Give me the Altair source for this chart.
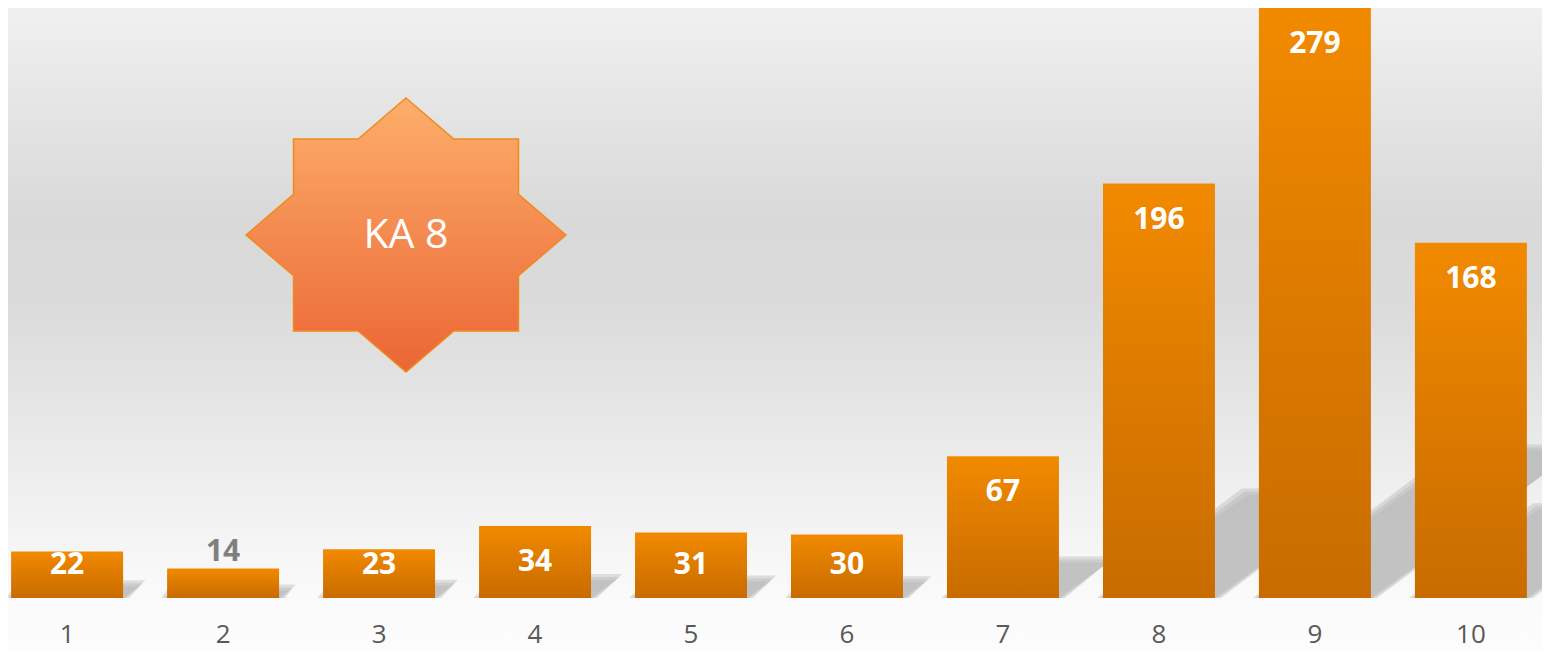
import altair as alt
import pandas as pd

categories = [str(i) for i in range(1, 11)]
values = [22, 14, 23, 34, 31, 30, 67, 196, 279, 168]
star_label = "KA 8"

W = 1522
H = 590
D = 279.0
PI = 0.282
PO = 0.02
N = len(categories)
k = H / D
step = W / (N - PI + 2 * PO)

df = pd.DataFrame({"cat": categories, "v": values})

# soft shadow parallelograms derived from the values (several passes fake a blur)
SA, SB = 0.35, 0.25
rows = []
for blur in [0.0, 3.0, 6.0]:
    e = blur / step
    for i, (c, v) in enumerate(zip(categories, values)):
        x0 = PO + i
        x1 = PO + i + (1 - PI)
        dxu = SA * v * k / step
        rows.append({"cat": c, "b": blur, "sy": 0.0, "sx": x0 - e, "sx2": x1 + e})
        rows.append({"cat": c, "b": blur, "sy": SB * v + blur / k, "sx": x0 + dxu - e, "sx2": x1 + dxu + e})
shadow_df = pd.DataFrame(rows)

yscale = alt.Scale(domain=[0, D], nice=False, zero=True)

bg = alt.Chart(pd.DataFrame({"a": [0]})).mark_rect(
    color=alt.Gradient(
        gradient="linear",
        stops=[
            alt.GradientStop(color="#f1f1f1", offset=0),
            alt.GradientStop(color="#e5e5e5", offset=0.16),
            alt.GradientStop(color="#d9d9d9", offset=0.33),
            alt.GradientStop(color="#dadada", offset=0.45),
            alt.GradientStop(color="#e6e6e6", offset=0.62),
            alt.GradientStop(color="#f2f2f2", offset=0.78),
            alt.GradientStop(color="#fafafa", offset=0.9),
            alt.GradientStop(color="#fdfdfd", offset=1),
        ],
        x1=0, x2=0, y1=0, y2=1,
    )
).encode(
    x=alt.value(-8), x2=alt.value(W + 20), y=alt.value(-8), y2=alt.value(H + 63)
)

shadows = alt.Chart(shadow_df).mark_area(
    orient="horizontal", color="#b3b3b3", opacity=0.4
).encode(
    y=alt.Y("sy:Q", scale=yscale, axis=None),
    x=alt.X("sx:Q", scale=alt.Scale(domain=[0, W / step], nice=False, zero=False), axis=None),
    x2="sx2:Q",
    detail=alt.Detail(["cat:N", "b:Q"]),
)

xenc = alt.X(
    "cat:N",
    sort=categories,
    scale=alt.Scale(paddingInner=PI, paddingOuter=PO),
    axis=alt.Axis(
        title=None, labelAngle=0, labelFont="Open Sans", labelFontSize=26,
        labelColor="#595959", ticks=False, tickSize=0, domain=False, grid=False,
        labelPadding=23, zindex=1,
    ),
)

bars = alt.Chart(df).mark_bar(
    color=alt.Gradient(
        gradient="linear",
        stops=[
            alt.GradientStop(color="#f28a00", offset=0),
            alt.GradientStop(color="#dc7a00", offset=0.5),
            alt.GradientStop(color="#c86c00", offset=1),
        ],
        x1=0, x2=0, y1=0, y2=1,
    )
).encode(
    x=xenc,
    y=alt.Y("v:Q", scale=yscale, axis=None),
)

labels = alt.Chart(df).transform_calculate(
    ly=f"datum.v < 20 ? datum.v + {16 / k} : max(datum.v - {36 / k}, {33 / k})",
    lc="datum.v < 20 ? '#7f7f7f' : '#ffffff'",
).mark_text(
    font="Open Sans", fontSize=30, fontWeight="bold", baseline="middle", align="center"
).encode(
    x=alt.X("cat:N", sort=categories),
    y=alt.Y("ly:Q", scale=yscale, axis=None),
    text="v:Q",
    color=alt.Color("lc:N", scale=None),
)

star_path = (
    "M0,-0.856 L0.299,-0.6 L0.703,-0.6 L0.703,-0.254 L1,0 L0.703,0.254 L0.703,0.6 "
    "L0.299,0.6 L0,0.856 L-0.299,0.6 L-0.703,0.6 L-0.703,0.254 L-1,0 L-0.703,-0.254 "
    "L-0.703,-0.6 L-0.299,-0.6 Z"
)
star_df = pd.DataFrame({"label": [star_label]})
star = alt.Chart(star_df).mark_point(
    shape=star_path, size=102400, filled=True, opacity=1,
    fill=alt.Gradient(
        gradient="linear",
        stops=[
            alt.GradientStop(color="#fdae6b", offset=0),
            alt.GradientStop(color="#f48a50", offset=0.5),
            alt.GradientStop(color="#eb6535", offset=1),
        ],
        x1=0, x2=0, y1=0, y2=1,
    ),
    stroke="#f08a1c", strokeWidth=1.5,
).encode(x=alt.value(398), y=alt.value(227))

star_text = alt.Chart(star_df).mark_text(
    font="Open Sans", fontSize=41, color="#ffffff", baseline="middle", align="center"
).encode(x=alt.value(398), y=alt.value(228), text="label:N")

chart = alt.layer(bg, shadows, alt.layer(bars, labels), star, star_text).resolve_scale(
    x="independent"
).properties(
    width=W, height=H,
    autosize=alt.AutoSizeParams(type="none"),
    padding={"left": 0, "top": 0, "right": 12, "bottom": 52},
).configure_view(stroke=None).configure(background="#ffffff")

chart.save("out.html", embed_options={"renderer": "svg", "actions": False})
